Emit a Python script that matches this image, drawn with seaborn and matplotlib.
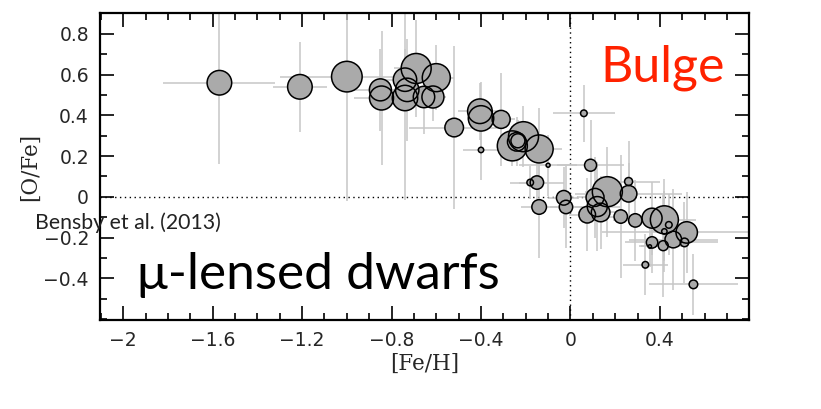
import numpy as np
import pandas as pd
import matplotlib
matplotlib.use("Agg")
import matplotlib.pyplot as plt
import seaborn as sns

# ---- data ----
fe_h = [-1.57, -1.21, -1.00, -0.85, -0.845, -0.74, -0.69, -0.60, -0.73, -0.74,
        -0.655, -0.615, -0.52, -0.405, -0.40, -0.31, -0.40, -0.21, -0.26, -0.24,
        -0.235, -0.14, -0.10, -0.15, -0.18, -0.03, -0.02, -0.14, 0.06, 0.09,
        0.165, 0.11, 0.26, 0.26, 0.12, 0.075, 0.135, 0.225, 0.29, 0.365,
        0.42, 0.44, 0.42, 0.52, 0.46, 0.365, 0.355, 0.415, 0.51, 0.335, 0.55]
o_fe = [0.56, 0.54, 0.59, 0.525, 0.485, 0.575, 0.63, 0.585, 0.525, 0.485,
        0.49, 0.49, 0.34, 0.42, 0.385, 0.38, 0.23, 0.295, 0.25, 0.27,
        0.275, 0.235, 0.155, 0.07, 0.07, -0.005, -0.05, -0.05, 0.41, 0.155,
        0.025, -0.003, 0.075, 0.015, -0.048, -0.088, -0.077, -0.097, -0.116, -0.105,
        -0.113, -0.138, -0.17, -0.175, -0.21, -0.224, -0.244, -0.24, -0.224, -0.334, -0.43]
fe_h_err = [0.25, 0.12, 0.30, 0.12, 0.125, 0.10, 0.10, 0.08, 0.08, 0.15,
            0.10, 0.06, 0.20, 0.10, 0.06, 0.06, 0.08, 0.06, 0.05, 0.04,
            0.03, 0.10, 0.13, 0.12, 0.05, 0.07, 0.07, 0.08, 0.14, 0.15,
            0.10, 0.08, 0.14, 0.24, 0.10, 0.08, 0.10, 0.12, 0.10, 0.12,
            0.14, 0.05, 0.06, 0.38, 0.20, 0.12, 0.05, 0.10, 0.15, 0.10, 0.20]
o_fe_err = [0.40, 0.22, 0.61, 0.20, 0.33, 0.15, 0.24, 0.16, 0.25, 0.50,
            0.18, 0.12, 0.40, 0.14, 0.18, 0.23, 0.15, 0.15, 0.10, 0.12,
            0.10, 0.20, 0.15, 0.12, 0.08, 0.15, 0.20, 0.25, 0.14, 0.22,
            0.22, 0.20, 0.20, 0.15, 0.22, 0.18, 0.18, 0.30, 0.20, 0.18,
            0.20, 0.15, 0.20, 0.20, 0.25, 0.15, 0.10, 0.25, 0.20, 0.15, 0.15]
bubble = [12.3, 12.3, 15.3, 11.0, 12.0, 11.7, 15.0, 14.0, 11.7, 12.7,
          10.7, 11.0, 9.3, 12.3, 12.7, 9.0, 2.7, 15.0, 15.0, 9.3,
          7.0, 14.0, 2.0, 6.7, 3.3, 7.3, 6.7, 7.3, 3.3, 6.0,
          15.0, 9.0, 4.0, 8.3, 10.0, 8.3, 9.3, 6.7, 6.7, 10.0,
          14.0, 3.3, 2.7, 10.7, 8.3, 5.7, 1.7, 5.0, 4.3, 3.3, 4.3]
x_ticks = [-2, -1.6, -1.2, -0.8, -0.4, 0, 0.4]
x_ticklabels = ["\u22122", "\u22121.6", "\u22121.2", "\u22120.8", "\u22120.4", "0", "0.4"]
y_ticks = [-0.4, -0.2, 0, 0.2, 0.4, 0.6, 0.8]
y_ticklabels = ["\u22120.4", "\u22120.2", "0", "0.2", "0.4", "0.6", "0.8"]

df = pd.DataFrame({"FeH": fe_h, "OFe": o_fe, "xerr": fe_h_err,
                   "yerr": o_fe_err, "r": bubble})

sns.set_theme(style="white")
plt.rcParams["font.family"] = ["DejaVu Sans"]

DPI = 100
fig = plt.figure(figsize=(8.21, 4.09), dpi=DPI)
ax = fig.add_axes([0.1218, 0.2176, 0.7909, 0.7494])

# marker area in points^2 from radius in pixels
s_vals = (2 * df["r"] * 72.0 / DPI) ** 2

ax.errorbar(df["FeH"], df["OFe"], xerr=df["xerr"], yerr=df["yerr"],
            fmt="none", ecolor="#c6c6c6", elinewidth=1.1, capsize=0, zorder=1)

sns.scatterplot(data=df, x="FeH", y="OFe", s=s_vals, color="#aaaaaa",
                edgecolor="none", linewidth=0, ax=ax, zorder=2, legend=False)
sns.scatterplot(data=df, x="FeH", y="OFe", s=s_vals, facecolor="none",
                edgecolor="black", linewidth=1.1, ax=ax, zorder=3, legend=False)

ax.axhline(0, color="black", ls=(0, (1, 2.5)), lw=1.0, zorder=0.5)
ax.axvline(0, color="black", ls=(0, (1, 2.5)), lw=1.0, zorder=0.5)

ax.set_xlim(-2.104, 0.80)
ax.set_ylim(-0.605, 0.90)
ax.set_xticks(x_ticks)
ax.set_xticklabels(x_ticklabels)
ax.set_yticks(y_ticks)
ax.set_yticklabels(y_ticklabels)
ax.set_xticks(np.arange(-2.1, 0.8, 0.1), minor=True)
ax.set_yticks(np.arange(-0.6, 0.9, 0.1), minor=True)
ax.tick_params(which="both", direction="in", top=True, right=True,
               bottom=True, left=True, color="black", width=1.2)
ax.tick_params(which="major", length=10, labelsize=13.5, pad=8)
ax.tick_params(which="minor", length=5)
for sp in ax.spines.values():
    sp.set_color("black")
    sp.set_linewidth(1.6)

ax.set_xlabel("[Fe/H]", family="DejaVu Serif", fontsize=15.5, labelpad=2)
ax.set_ylabel("[O/Fe]", family="DejaVu Serif", fontsize=15.5, labelpad=2)

ax.text(0.866, 0.822, "Bulge", transform=ax.transAxes,
        color="#ff2200", fontsize=36, family="Lato", ha="center", va="center")
fig.text(137 / 821, 1 - 275 / 409, "\u03bc-lensed dwarfs", color="black",
         fontsize=37, family="Lato", ha="left", va="center")
fig.text(35 / 821, 1 - 223 / 409, "Bensby et al. (2013)", color="#222222",
         fontsize=15.3, family="Lato", ha="left", va="center")

fig.savefig("out.png", dpi=DPI, facecolor="white")
